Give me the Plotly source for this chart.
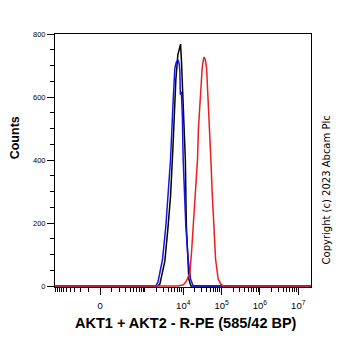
import numpy as np
import plotly.graph_objects as go

# ---- data (raw fluorescence intensity vs counts) ----
black_x = [-1000, 2170, 2450, 3310, 3960, 4660, 5350, 5680, 6410, 7230, 8500,
           9030, 9590, 10680, 11340, 12050, 12790, 14000, 15790, 21500000]
black_y = [0, 0, 6, 79, 180, 285, 433, 528, 655, 734, 768,
           708, 629, 496, 402, 190, 101, 22, 0, 0]

blue_x = [-1000, 1930, 2190, 2880, 3510, 4660, 5450, 6040, 6600, 7360, 7910, 8150,
          8400, 8920, 9470, 9940, 11690, 13430, 15510, 18130, 21500000]
blue_y = [0, 0, 13, 85, 190, 402, 588, 692, 711, 718, 702, 680,
          607, 617, 544, 402, 190, 85, 22, 0, 0]

red_x = [-1000, 7230, 9760, 11010, 12420, 13430, 14870, 16470, 18130, 20700, 23630,
         24800, 27130, 31150, 33480, 35130, 37760, 40590, 44680, 49500, 52560,
         56830, 64110, 69710, 81510, 95880, 110100, 21500000]
red_y = [0, 0, 3, 9, 19, 28, 41, 108, 190, 297, 405,
         496, 585, 692, 718, 727, 718, 692, 585, 433, 402,
         297, 190, 85, 22, 6, 0, 0]

major_ticks = [0, 1e4, 1e5, 1e6, 1e7]
major_labels = ["0", "10<sup>4</sup>", "10<sup>5</sup>", "10<sup>6</sup>", "10<sup>7</sup>"]
y_ticks = [0, 200, 400, 600, 800]

# ---- biexponential (logicle-like) display transform ----
C = 68.0
def T(v):
    return np.log10(C) + np.arcsinh(np.asarray(v, dtype=float) / (2 * C)) / np.log(10)

minor_raw = []
for k in range(1, 11):
    minor_raw += [-100 * k, 100 * k]
for e in range(3, 7):
    minor_raw += [m * 10 ** e for m in range(2, 10)]
minor_raw = [v for v in minor_raw if v not in major_ticks]

X_MIN, X_MAX = -1020, 2.15e7

fig = go.Figure()
fig.add_trace(go.Scatter(x=T(black_x), y=black_y, mode="lines",
                         line=dict(color="#000000", width=1.5)))
fig.add_trace(go.Scatter(x=T(blue_x), y=blue_y, mode="lines",
                         line=dict(color="#1414e6", width=1.5)))
fig.add_trace(go.Scatter(x=T(red_x), y=red_y, mode="lines",
                         line=dict(color="#ee1c1c", width=1.5)))

fig.update_layout(
    width=362, height=351,
    margin=dict(l=55, r=51, t=34, b=64),
    paper_bgcolor="white", plot_bgcolor="white",
    showlegend=False,
    font=dict(family="Arial, Liberation Sans, sans-serif", color="black"),
)
fig.update_xaxes(
    range=[float(T(X_MIN)), float(T(X_MAX))],
    tickmode="array", tickvals=list(T(major_ticks)), ticktext=major_labels,
    ticks="outside", ticklen=7, tickwidth=1, tickcolor="black",
    tickfont=dict(size=9.5), ticklabelstandoff=3,
    showline=True, linecolor="black", linewidth=1, mirror=True,
    showgrid=False, zeroline=False,
    minor=dict(tickmode="array", tickvals=list(T(minor_raw)), ticks="outside",
               ticklen=4, tickwidth=1, tickcolor="black", showgrid=False),
)
fig.update_yaxes(
    range=[-3, 800],
    tickmode="array", tickvals=y_ticks,
    ticks="outside", ticklen=7, tickwidth=1, tickcolor="black",
    tickfont=dict(size=7.5),
    showline=True, linecolor="black", linewidth=1, mirror=True,
    showgrid=False, zeroline=False,
    minor=dict(dtick=50, ticks="outside", ticklen=4, tickwidth=1,
               tickcolor="black", showgrid=False),
)

fig.add_annotation(text="Counts", xref="paper", yref="paper", x=-0.155, y=0.589,
                   xanchor="center", yanchor="middle",
                   textangle=-90, showarrow=False,
                   font=dict(size=12.5, weight="bold", color="black"))
fig.add_annotation(text="AKT1 + AKT2 - R-PE (585/42 BP)", xref="paper", yref="paper",
                   x=0.512, y=-0.142, showarrow=False, xanchor="center", yanchor="middle",
                   font=dict(size=14.5, weight="bold", color="black"))
fig.add_annotation(text="Copyright (c) 2023 Abcam Plc", xref="paper", yref="paper",
                   x=1.06, y=0.383, xanchor="center", yanchor="middle",
                   textangle=-90, showarrow=False,
                   font=dict(size=10, family="DejaVu Sans", color="black"))

fig.write_html("out.html")
